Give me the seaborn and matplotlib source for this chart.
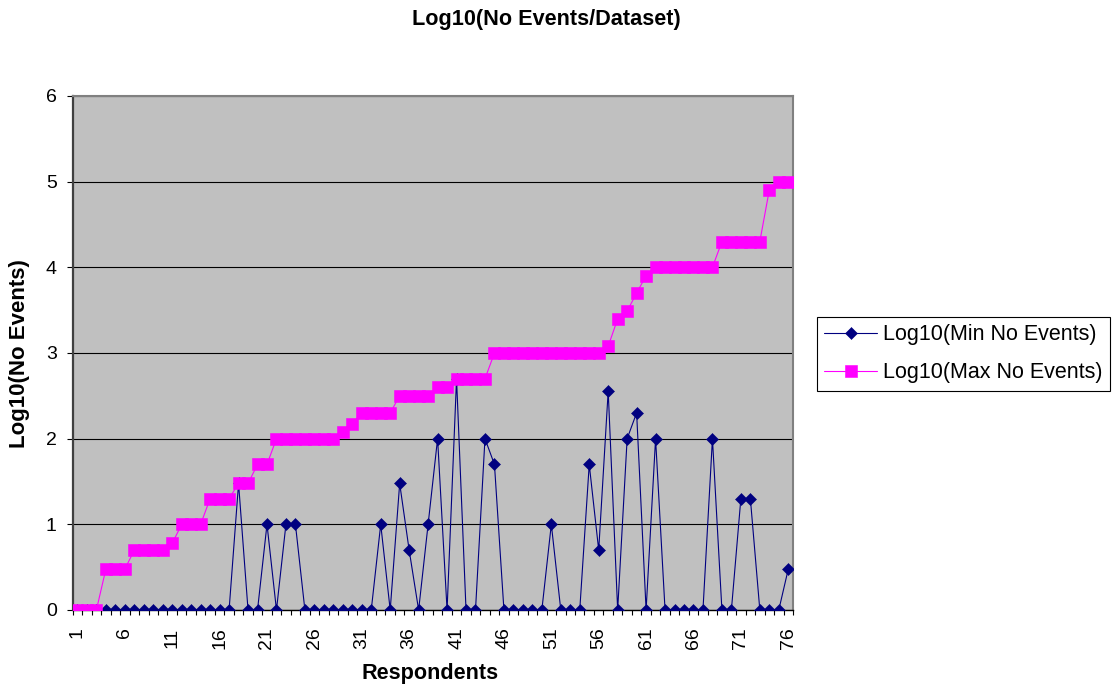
import numpy as np
import pandas as pd
import matplotlib
matplotlib.use("Agg")
import matplotlib.pyplot as plt
import seaborn as sns

# ---- data ----
respondents = list(range(1, 77))
min_events = [
    0, 0, 0, 0, 0, 0, 0, 0, 0, 0,            # 1-10
    0, 0, 0, 0, 0, 0, 0, 1.477, 0, 0,        # 11-20
    1, 0, 1, 1, 0, 0, 0, 0, 0, 0,            # 21-30
    0, 0, 1, 0, 1.477, 0.699, 0, 1, 2, 0,    # 31-40
    2.699, 0, 0, 2, 1.699, 0, 0, 0, 0, 0,    # 41-50
    1, 0, 0, 0, 1.699, 0.699, 2.556, 0, 2, 2.301,  # 51-60
    0, 2, 0, 0, 0, 0, 0, 2, 0, 0,            # 61-70
    1.301, 1.301, 0, 0, 0, 0.477,            # 71-76
]
max_events = [
    0, 0, 0, 0.477, 0.477, 0.477, 0.699, 0.699, 0.699, 0.699,      # 1-10
    0.778, 1, 1, 1, 1.301, 1.301, 1.301, 1.477, 1.477, 1.699,      # 11-20
    1.699, 2, 2, 2, 2, 2, 2, 2, 2.079, 2.176,                      # 21-30
    2.301, 2.301, 2.301, 2.301, 2.5, 2.5, 2.5, 2.5, 2.602, 2.602,  # 31-40
    2.699, 2.699, 2.699, 2.699, 3, 3, 3, 3, 3, 3,                  # 41-50
    3, 3, 3, 3, 3, 3, 3.079, 3.398, 3.49, 3.699,                   # 51-60
    3.903, 4, 4, 4, 4, 4, 4, 4, 4.301, 4.301,                      # 61-70
    4.301, 4.301, 4.301, 4.903, 5, 5,                              # 71-76
]
tick_labels = [1, 6, 11, 16, 21, 26, 31, 36, 41, 46, 51, 56, 61, 66, 71, 76]
y_ticks = [0, 1, 2, 3, 4, 5, 6]

min_name = "Log10(Min No Events)"
max_name = "Log10(Max No Events)"
df = pd.DataFrame({"Respondents": respondents, min_name: min_events, max_name: max_events})

sns.set_style("white")
plt.rcParams["font.family"] = ["Liberation Sans", "DejaVu Sans"]
plt.rcParams["text.color"] = "black"
plt.rcParams["axes.labelcolor"] = "black"
plt.rcParams["xtick.color"] = "black"
plt.rcParams["ytick.color"] = "black"

W, H = 1115, 689
fig = plt.figure(figsize=(W / 100, H / 100), dpi=100)
fig.patch.set_facecolor("white")
ax_l, ax_r, ax_t, ax_b = 72.7, 793.0, 96.0, 610.0
ax = fig.add_axes([ax_l / W, 1 - ax_b / H, (ax_r - ax_l) / W, (ax_b - ax_t) / H])
ax.set_facecolor("#C0C0C0")

navy = "#000080"
magenta = "#FF00FF"

sns.lineplot(data=df, x="Respondents", y=min_name, ax=ax, color=navy, linewidth=0.8,
             marker="D", markersize=5.7, markeredgecolor=navy, markeredgewidth=0.4,
             label=min_name, zorder=3)
sns.lineplot(data=df, x="Respondents", y=max_name, ax=ax, color=magenta, linewidth=0.8,
             marker="s", markersize=9, markeredgecolor=magenta, markeredgewidth=0.4,
             label=max_name, zorder=4)

ax.set_xlim(0.5, 76.5)
ax.set_ylim(0, 6)
ax.set_yticks(y_ticks)
ax.set_yticklabels([str(v) for v in y_ticks], fontsize=14, color="black")
ax.set_xticks(tick_labels)
ax.set_xticklabels([str(v) for v in tick_labels], rotation=90, fontsize=14, color="black")
ax.set_xticks(np.arange(0.5, 77, 1.0), minor=True)
ax.tick_params(axis="x", which="major", length=0, pad=12.5, colors="black")
ax.tick_params(axis="x", which="minor", length=3.5, width=0.8, direction="out", color="black", bottom=True)
ax.tick_params(axis="y", which="major", length=4.5, width=0.8, direction="out", pad=7, color="black", left=True)

ax.yaxis.grid(True, color="black", linewidth=0.8)
ax.xaxis.grid(False)
ax.set_axisbelow(True)

for side in ["top", "right"]:
    ax.spines[side].set_visible(True)
    ax.spines[side].set_color("#808080")
    ax.spines[side].set_linewidth(1.5)
ax.spines["left"].set_color("#404040")
ax.spines["left"].set_linewidth(1.6)
ax.spines["bottom"].set_color("black")
ax.spines["bottom"].set_linewidth(1.0)

ax.set_xlabel("")
ax.set_ylabel("")

fig.text(546.7 / W, 1 - 19 / H, "Log10(No Events/Dataset)", ha="center", va="center",
         fontsize=15.6, fontweight="bold", color="black")
fig.text(20 / W, 1 - 354 / H, "Log10(No Events)", ha="center", va="center", rotation=90,
         fontsize=16, fontweight="bold", color="black")
fig.text(430 / W, 1 - 674 / H, "Respondents", ha="center", va="center",
         fontsize=15.6, fontweight="bold", color="black")

handles, labels = ax.get_legend_handles_labels()
ax.get_legend().remove()
leg = fig.legend(handles, labels, loc="upper left",
                 bbox_to_anchor=(816.7 / W, 1 - 316.7 / H), borderaxespad=0,
                 fontsize=15.5, frameon=True, fancybox=False, edgecolor="black",
                 framealpha=1, borderpad=0.35, labelspacing=0.8, handlelength=2.45,
                 handletextpad=0.3)
leg.get_frame().set_linewidth(0.8)
for t in leg.get_texts():
    t.set_color("black")

fig.savefig("out.png", dpi=100, facecolor="white")
